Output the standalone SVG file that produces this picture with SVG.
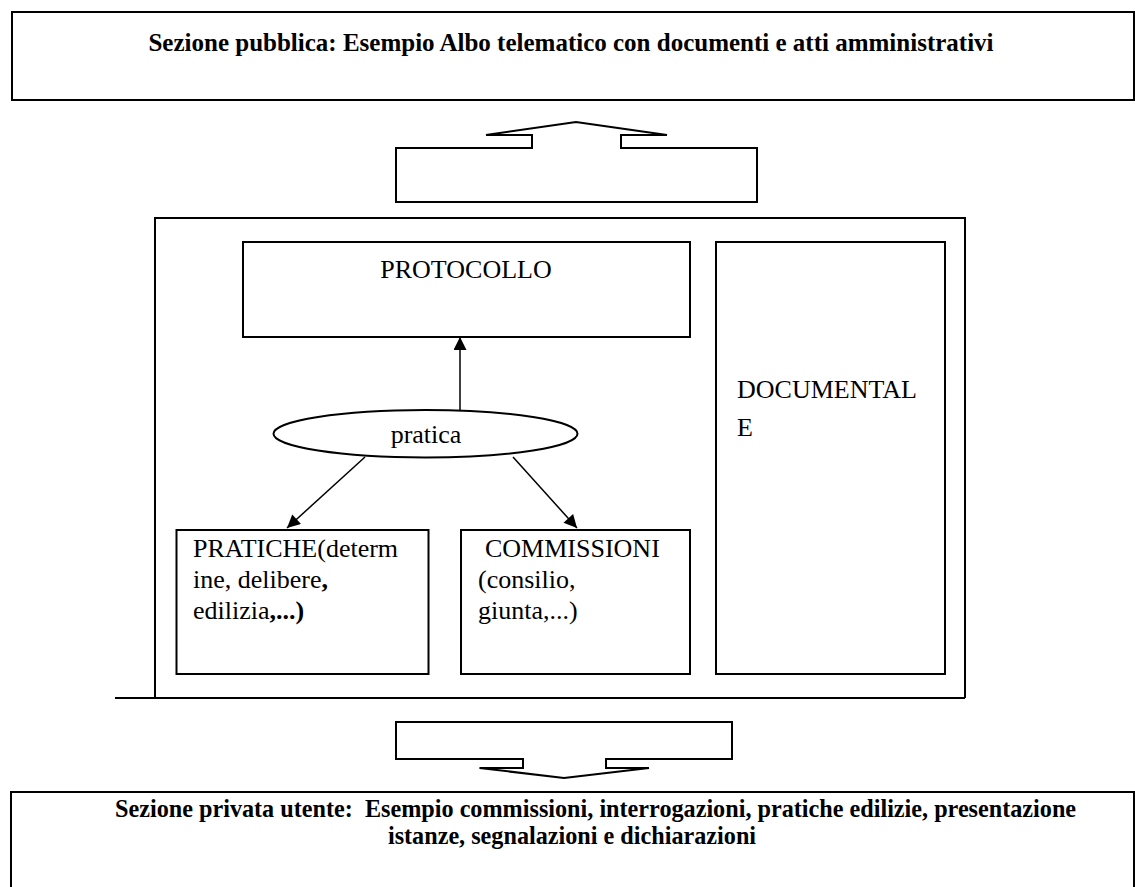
<svg xmlns="http://www.w3.org/2000/svg" width="1135" height="887" viewBox="0 0 1135 887">
<style>
.box{fill:none;stroke:#000;stroke-width:2}
.t{font-family:"Liberation Serif","Times New Roman",serif;font-size:26px;fill:#000}
.b{font-weight:bold}
.s{font-size:24.2px}
.h{font-size:25px}
.c{stroke:#000;stroke-width:1.5;fill:none}
</style>
<defs>
<marker id="ah" viewBox="0 0 10 10" refX="10" refY="5" markerWidth="16" markerHeight="13" markerUnits="userSpaceOnUse" orient="auto">
<path d="M0,0 L10,5 L0,10 z" fill="#000"/>
</marker>
</defs>
<rect width="1135" height="887" fill="#fff"/>
<g id="pubblica">
<rect class="box" x="12" y="12" width="1122" height="88"/>
<text class="t b h" x="571" y="51" text-anchor="middle">Sezione pubblica: Esempio Albo telematico con documenti e atti amministrativi</text>
</g>
<g id="freccia-su">
<path class="box" d="M486,135 L576,122 L667,135 H621 V148 H757 V202 H396 V148 H532 V135 Z"/>
</g>
<g id="contenitore">
<path class="box" d="M155,698 V218 H965 V698 M115,698 H965"/>
</g>
<g id="protocollo">
<rect class="box" x="243" y="242" width="447" height="95"/>
<text class="t" x="466" y="278" text-anchor="middle">PROTOCOLLO</text>
</g>
<g id="documentale">
<rect class="box" x="716" y="242" width="229" height="432"/>
<text class="t" x="737" y="398">DOCUMENTAL</text>
<text class="t" x="737" y="436">E</text>
</g>
<g id="pratica">
<ellipse class="box" cx="425.5" cy="433.7" rx="152" ry="23.7"/>
<text class="t" x="426" y="443" text-anchor="middle">pratica</text>
</g>
<g id="pratiche">
<rect class="box" x="176.5" y="530" width="252" height="144"/>
<text class="t" x="193" y="557">PRATICHE(determ</text>
<text class="t" x="193" y="588">ine, delibere<tspan class="b">,</tspan></text>
<text class="t" x="193" y="619">edilizia<tspan class="b">,...)</tspan></text>
</g>
<g id="commissioni">
<rect class="box" x="461" y="530" width="229" height="144"/>
<text class="t" x="485" y="557">COMMISSIONI</text>
<text class="t" x="478" y="588">(consilio,</text>
<text class="t" x="478" y="619">giunta,...)</text>
</g>
<g id="freccia-giu">
<path class="box" d="M479.5,768 L564,778 L649,768 H606 V759 H732 V722 H396 V759 H523 V768 Z"/>
</g>
<g id="privata">
<rect class="box" x="11" y="792" width="1123" height="120"/>
<text class="t b s" x="115" y="817" xml:space="preserve">Sezione privata utente:  Esempio commissioni, interrogazioni, pratiche edilizie, presentazione</text>
<text class="t b s" x="572" y="844" text-anchor="middle">istanze, segnalazioni e dichiarazioni</text>
</g>
<g id="connettori">
<line class="c" x1="460" y1="410" x2="460" y2="337" marker-end="url(#ah)"/>
<line class="c" x1="365" y1="457" x2="287" y2="528" marker-end="url(#ah)"/>
<line class="c" x1="513" y1="457" x2="577" y2="528" marker-end="url(#ah)"/>
</g>
</svg>
